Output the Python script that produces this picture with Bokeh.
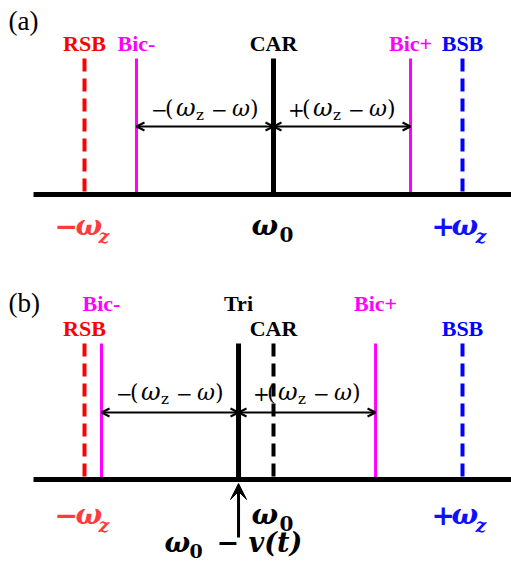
from bokeh.plotting import figure
from bokeh.models import Range1d, Arrow, OpenHead, VeeHead
from bokeh.core.properties import value
from bokeh.embed import file_html
from bokeh.resources import INLINE

# Transition frequencies relative to the carrier ω0, in units of ω_z
names_a = ["RSB", "Bic-", "CAR", "Bic+", "BSB"]
freq_a = [-1.0, -0.725, 0.0, 0.725, 1.0]

names_b = ["RSB", "Bic-", "Tri", "CAR", "Bic+", "BSB"]
freq_b = [-1.0, -0.91, -0.185, 0.0, 0.54, 1.0]

W, H = 511, 563
X0, XS = 273, 189          # screen x of ω0 and pixels per ω_z
BASE_A, BASE_B = 194, 479  # screen y of each panel's frequency axis
LINE_LEN = 136
BASELINE_FIX = 0.3         # raise glyph baselines by this fraction of the font size

LABEL_FONT = "Liberation Serif"
MATH_FONT = "DejaVu Serif"

COLORS = {"RSB": "#ff0000", "Bic-": "#ff00ff", "Bic+": "#ff00ff",
          "CAR": "#000000", "Tri": "#000000", "BSB": "#0000ff"}


def px(xpix):
    """screen x -> frequency units"""
    return (xpix - X0) / XS


p = figure(width=W, height=H, x_range=Range1d(px(0), px(W)),
           y_range=Range1d(H, 0), output_backend="svg", toolbar_location=None,
           min_border=0, x_axis_location=None, y_axis_location=None)
p.grid.visible = False
p.outline_line_color = None
p.background_fill_color = "white"


def line_style(name, solid_black):
    if name in ("Bic-", "Bic+"):
        return dict(line_width=3, line_dash="solid")
    if name == solid_black:
        return dict(line_width=5, line_dash="solid")
    return dict(line_width=4, line_dash="13 7")


def text(x, y, s, size, color="black", font=LABEL_FONT, style="normal",
         align="center", dx=0):
    p.text(x=[x], y=[y - BASELINE_FIX * size], text=[s], x_offset=dx,
           text_font=value(font), text_font_size=f"{size}px",
           text_font_style=style, text_color=color, text_align=align,
           text_baseline="alphabetic")


def pieces(x, y, parts, color="black"):
    for s, dx, dy, size, style in parts:
        text(x, y + dy, s, size, color=color, font=MATH_FONT, style=style,
             align="left", dx=dx)


def detuning(x, y, sign):
    pieces(x, y, [(sign, -54, 0, 20, "normal"),
                  ("(", -40, 0, 22, "normal"),
                  ("ω", -29, 0, 24, "italic"),
                  ("z", -9, 4, 15, "normal"),
                  ("−", 6, 0, 20, "normal"),
                  ("ω", 27, 0, 22, "italic"),
                  (")", 45, 0, 22, "normal")])


def sideband_labels(x_rsb, x_car, x_bsb, y):
    pieces(x_rsb, y, [("−", -30, 0, 28, "bold"), ("ω", -9, 0, 28, "bold italic"),
                      ("z", 14, 8, 19, "bold italic")], color="#ff3b3b")
    pieces(x_car, y, [("ω", -22, 0, 28, "bold italic"), ("0", 6, 7, 20, "bold")])
    pieces(x_bsb, y, [("+", -31, 0, 28, "bold"), ("ω", -11, 0, 28, "bold italic"),
                      ("z", 13, 8, 19, "bold italic")], color="#1010ff")


def draw_lines(names, freqs, base, solid_black):
    for n, f in zip(names, freqs):
        p.segment(x0=[f], y0=[base - LINE_LEN], x1=[f], y1=[base],
                  line_color=COLORS[n], line_cap="butt",
                  **line_style(n, solid_black))


def double_arrow(fa, fb, y):
    p.add_layout(Arrow(x_start=fa, y_start=y, x_end=fb, y_end=y, line_width=2,
                       start=OpenHead(size=8, line_width=2),
                       end=OpenHead(size=8, line_width=2)))


def axis_line(base):
    p.segment(x0=[px(33)], y0=[base], x1=[px(W)], y1=[base],
              line_color="black", line_width=5, line_cap="butt")


# ---------------- panel (a): carrier drive ----------------
fa = dict(zip(names_a, freq_a))
text(px(8), 29, "(a)", 27, align="left")
draw_lines(names_a, freq_a, BASE_A, "CAR")
axis_line(BASE_A)
for n, f in zip(names_a, freq_a):
    text(f, 50, n, 22, color=COLORS[n], style="bold")
double_arrow(fa["Bic-"], fa["CAR"], 126)
double_arrow(fa["CAR"], fa["Bic+"], 126)
detuning((fa["Bic-"] + fa["CAR"]) / 2, 115, "−")
detuning((fa["CAR"] + fa["Bic+"]) / 2, 115, "+")
sideband_labels(fa["RSB"], fa["CAR"], fa["BSB"], 233)

# ---------------- panel (b): chirped trigger drive ----------------
fb = dict(zip(names_b, freq_b))
text(px(8), 311, "(b)", 27, align="left")
draw_lines(names_b, freq_b, BASE_B, "Tri")
axis_line(BASE_B)
upper_row = {"Bic-", "Tri", "Bic+"}
for n, f in zip(names_b, freq_b):
    text(f, 310 if n in upper_row else 335, n, 22, color=COLORS[n], style="bold")
double_arrow(fb["Bic-"], fb["Tri"], 412)
double_arrow(fb["Tri"], fb["Bic+"], 412)
detuning((fb["Bic-"] + fb["Tri"]) / 2, 399, "−")
detuning((fb["Tri"] + fb["Bic+"]) / 2, 399, "+")
sideband_labels(fb["RSB"], fb["CAR"], fb["BSB"], 522)

p.add_layout(Arrow(x_start=fb["Tri"], y_start=537, x_end=fb["Tri"], y_end=483,
                   line_width=3, line_color="black",
                   end=VeeHead(size=16, fill_color="black", line_color="black")))
pieces(fb["Tri"], 550, [("ω", -74, 0, 27, "bold italic"), ("0", -49, 6, 19, "bold"),
                        ("− v(t)", -22, 0, 27, "bold italic")])

open("out.html", "w").write(file_html(p, INLINE))
